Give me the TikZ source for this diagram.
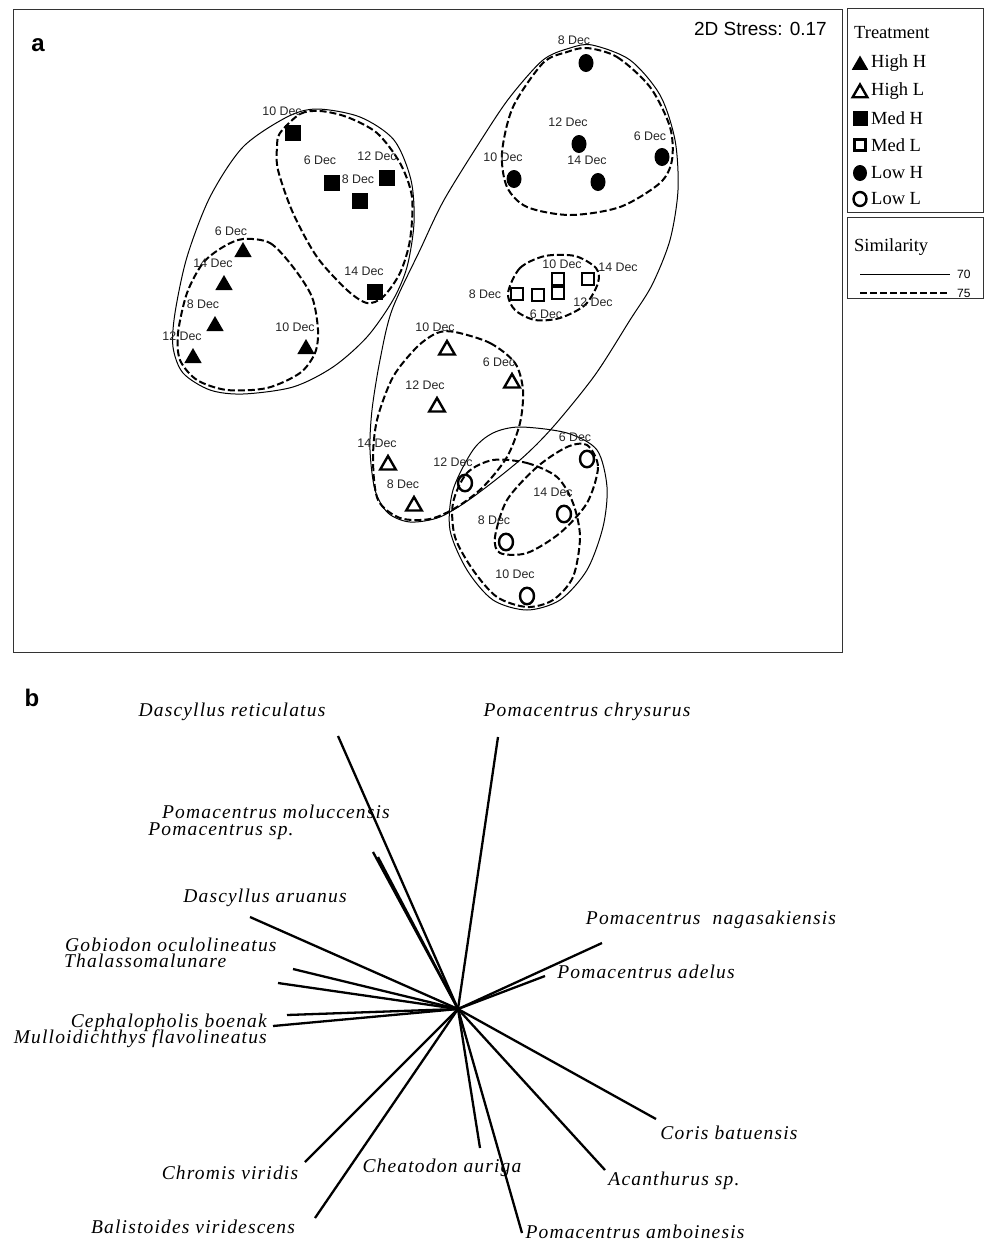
\documentclass[tikz,border=0pt]{standalone}
\usepackage{fontspec}
\setmainfont{Liberation Serif}
\setsansfont{Liberation Sans}
\newfontfamily\spfont[LetterSpace=6.0]{Liberation Serif}
\usetikzlibrary{shapes.geometric}

\begin{document}
\begin{tikzpicture}[x=1pt, y=-1pt, every node/.style={inner sep=0pt},
    datelbl/.style={font=\sffamily\fontsize{12.4}{14}\selectfont, text=black!85},
    sp/.style={font=\spfont\itshape\fontsize{19.5}{21}\selectfont},
    lgd/.style={font=\fontsize{18.5}{20}\selectfont, anchor=west},
    hull/.style={line width=1pt},
    grp/.style={line width=2pt, dash pattern=on 7pt off 3pt},
    ray/.style={line width=2.3pt},
    trifill/.style={regular polygon, regular polygon sides=3, fill, minimum size=20pt},
    triopen/.style={regular polygon, regular polygon sides=3, draw, line width=2.4pt, minimum size=18pt},
    sqfill/.style={rectangle, fill, minimum size=16pt},
    sqopen/.style={rectangle, draw, line width=2.4pt, minimum size=11.5pt},
    dotfill/.style={ellipse, fill, minimum width=15pt, minimum height=18pt},
    dotopen/.style={ellipse, draw, line width=2.4pt, minimum width=14pt, minimum height=16.5pt}]
  \useasboundingbox (0,0) rectangle (984,1243);

  \draw[line width=1pt, black!80] (13,9) rectangle (842,652);
  \draw[line width=1pt, black!80] (847,8) rectangle (983.5,212);
  \draw[line width=1pt, black!80] (847,217) rectangle (983.5,298);
  \node[font=\sffamily\bfseries\fontsize{24}{26}\selectfont] (pa) at (38,45) {a};
  \node[font=\sffamily\fontsize{19}{21}\selectfont, anchor=east] (stress) at (827,29) {2D Stress: 0.17};

  \draw[hull] plot[smooth cycle] coordinates {(287,117) (243,147) (210,197) (187,257) (175,313) (173,347) (183,373) (210,390) (243,394) (293,387) (333,367) (367,337) (393,300) (407,267) (414,223) (411,180) (394,140) (360,117) (317,109)};
  \draw[grp] plot[smooth cycle] coordinates {(280,133) (300,114) (320,111) (347,117) (377,133) (400,163) (412,197) (410,240) (400,273) (383,297) (367,303) (347,290) (317,257) (293,213) (278,170) (277,147)};
  \draw[grp] plot[smooth cycle] coordinates {(243,239) (270,243) (293,267) (312,297) (318,330) (315,353) (300,373) (267,388) (227,390) (197,380) (180,360) (178,333) (187,293) (203,263) (223,247)};
  \draw[hull] plot[smooth cycle] coordinates {(592,45) (630,60) (660,95) (675,140) (678,190) (670,240) (652,285) (630,320) (595,375) (553,427) (520,460) (473,497) (440,517) (410,522) (388,513) (375,490) (370,450) (372,410) (380,360) (392,310) (420,250) (444,200) (483,137) (510,97) (543,60) (570,48)};
  \draw[grp] plot[smooth cycle] coordinates {(587,48) (617,57) (650,87) (670,127) (672,160) (660,183) (620,207) (570,215) (527,207) (507,187) (502,153) (513,107) (543,63) (567,52)};
  \draw[grp] plot[smooth cycle] coordinates {(508,293) (520,268) (545,256) (575,256) (596,268) (598,283) (585,305) (560,318) (535,320) (515,310)};
  \draw[grp] plot[smooth cycle] coordinates {(455,332) (490,343) (515,363) (523,390) (520,423) (507,457) (483,487) (457,507) (430,519) (400,518) (378,500) (373,460) (377,420) (393,377) (417,347) (437,333)};
  \draw[hull] plot[smooth cycle] coordinates {(520,427) (567,433) (597,450) (607,487) (603,527) (587,570) (560,600) (527,610) (493,600) (467,570) (450,530) (453,490) (473,450) (493,433)};
  \draw[grp] plot[smooth cycle] coordinates {(493,460) (527,463) (557,477) (573,503) (580,537) (573,577) (553,600) (527,607) (497,597) (473,570) (455,537) (453,503) (467,473)};
  \draw[grp] plot[smooth cycle] coordinates {(587,445) (598,467) (587,503) (560,533) (527,553) (500,553) (495,537) (507,500) (537,467) (567,447)};

  \foreach \d/\px/\py/\lx/\ly in {10/293/133/282/111, 6/332/183/320/160, 12/387/178/377/156, 8/360/201/358/179, 14/375/292/364/271}
    {\node[sqfill] (mh\d) at (\px,\py) {}; \node[datelbl] (mh\d l) at (\lx,\ly) {\d\ Dec};}
  \foreach \d/\px/\py/\lx/\ly in {6/243/252/231/231, 14/224/285/213/263, 8/215/326/203/304, 12/193/358/182/336, 10/306/349/295/327}
    {\node[trifill] (hh\d) at (\px,\py) {}; \node[datelbl] (hh\d l) at (\lx,\ly) {\d\ Dec};}
  \foreach \d/\px/\py/\lx/\ly in {8/586/63/574/40, 12/579/144/568/122, 6/662/157/650/136, 10/514/179/503/157, 14/598/182/587/160}
    {\node[dotfill] (lh\d) at (\px,\py) {}; \node[datelbl] (lh\d l) at (\lx,\ly) {\d\ Dec};}
  \foreach \d/\px/\py/\lx/\ly in {8/517/294/485/294, 6/538/295/546/314, 10/558/279/562/264, 12/558/293/593/302, 14/588/279/618/267}
    {\node[sqopen] (ml\d) at (\px,\py) {}; \node[datelbl] (ml\d l) at (\lx,\ly) {\d\ Dec};}
  \foreach \d/\px/\py/\lx/\ly in {10/447/350/435/327, 6/512/383/499/362, 12/437/407/425/385, 14/388/465/377/443, 8/414/506/403/484}
    {\node[triopen] (hl\d) at (\px,\py) {}; \node[datelbl] (hl\d l) at (\lx,\ly) {\d\ Dec};}
  \foreach \d/\px/\py/\lx/\ly in {12/465/483/453/462, 6/587/459/575/437, 14/564/514/553/492, 8/506/542/494/520, 10/527/596/515/574}
    {\node[dotopen] (ll\d) at (\px,\py) {}; \node[datelbl] (ll\d l) at (\lx,\ly) {\d\ Dec};}

  \node[lgd] (ttl) at (854,33) {Treatment};
  \node[trifill, minimum size=19pt] (k1) at (860,65) {};
  \node[lgd] (k1t) at (871,63) {High H};
  \node[triopen, minimum size=17pt] (k2) at (860,93) {};
  \node[lgd] (k2t) at (871,91) {High L};
  \node[sqfill, minimum size=15pt] (k3) at (860,118) {};
  \node[lgd] (k3t) at (871,118) {Med H};
  \node[sqopen, minimum size=11pt] (k4) at (860,145) {};
  \node[lgd] (k4t) at (871,145) {Med L};
  \node[dotfill, minimum width=14pt, minimum height=16pt] (k5) at (860,173) {};
  \node[lgd] (k5t) at (871,173) {Low H};
  \node[dotopen, minimum width=13pt, minimum height=14pt] (k6) at (860,199) {};
  \node[lgd] (k6t) at (871,199) {Low L};

  \node[lgd] (sim) at (854,247) {Similarity};
  \coordinate (s70a) at (860,274);
  \coordinate (s70b) at (950,274);
  \coordinate (s75a) at (860,293);
  \coordinate (s75b) at (950,293);
  \draw[hull] (s70a) -- (s70b);
  \draw[grp] (s75a) -- (s75b);
  \node[font=\sffamily\fontsize{12}{14}\selectfont, anchor=west] (v70) at (957,274) {70};
  \node[font=\sffamily\fontsize{12}{14}\selectfont, anchor=west] (v75) at (957,293) {75};

  \node[font=\sffamily\bfseries\fontsize{24}{26}\selectfont] (pb) at (32,698) {b};
  \coordinate (ctr) at (458,1009);
  \node[sp] (dret) at (232,712) {Dascyllus reticulatus};
  \node[sp] (chry) at (587,712) {Pomacentrus chrysurus};
  \node[sp] (pmol) at (276,812) {Pomacentrus moluccensis};
  \node[sp] (psp) at (221,831) {Pomacentrus sp.};
  \node[sp] (daru) at (265,898) {Dascyllus aruanus};
  \node[sp, anchor=west] (gobi) at (65,945) {Gobiodon oculolineatus};
  \node[sp, anchor=west] (thal) at (64,961) {Thalassomalunare};
  \node[sp, anchor=east] (ceph) at (267,1023) {Cephalopholis boenak};
  \node[sp, anchor=east] (mull) at (267,1039) {Mulloidichthys flavolineatus};
  \node[sp] (naga) at (711,920) {Pomacentrus\ \ nagasakiensis};
  \node[sp] (pade) at (646,972) {Pomacentrus adelus};
  \node[sp] (cori) at (729,1133) {Coris batuensis};
  \node[sp] (chro) at (230,1173) {Chromis viridis};
  \node[sp] (chea) at (442,1168) {Cheatodon auriga};
  \node[sp] (acan) at (674,1181) {Acanthurus sp.};
  \node[sp] (bali) at (193,1227) {Balistoides viridescens};
  \node[sp] (pamb) at (635,1232) {Pomacentrus amboinesis};

  \foreach \s/\ex/\ey in {dret/338/736, chry/498/737, pmol/373/852, psp/378/857, daru/250/917, gobi/293/969, thal/278/983, ceph/273/1026, mull/287/1015, naga/602/943, pade/545/976, cori/656/1119, chro/305/1162, chea/480/1148, acan/605/1170, bali/315/1218, pamb/522/1233}
    {\coordinate (\s-e) at (\ex,\ey); \draw[ray] (ctr) -- (\s-e);}
\end{tikzpicture}
\end{document}
